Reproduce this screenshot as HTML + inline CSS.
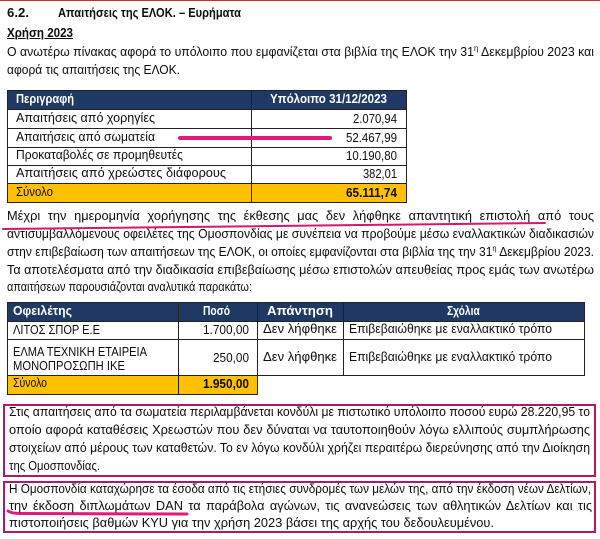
<!DOCTYPE html>
<html><head><meta charset="utf-8">
<style>
*{margin:0;padding:0;box-sizing:border-box}
html,body{width:600px;height:539px;background:#fff;overflow:hidden}
body{position:relative;font-family:"Liberation Sans","DejaVu Sans",sans-serif;font-size:12.8px;color:#0d0d0d}
.ln{position:absolute;height:18px;line-height:18px;white-space:nowrap}
.ln>span{display:inline-block;transform-origin:0 50%}
.b{font-weight:bold}
.w{color:#fff}
.u>span{text-decoration:underline}
.hl{position:absolute;height:1px;background:#222}
.vl{position:absolute;width:1px;background:#222}
.bx{position:absolute}
sup{font-size:8px;line-height:0;vertical-align:5px}
</style>
</head>
<body>
<div class="bx" style="left:0;top:0;width:600px;height:1px;background:#d42a2a"></div>

<div class="ln b f" style="left:7px;top:4px;width:22px"><span>6.2.</span></div>
<div class="ln b f" style="left:58px;top:4px;width:183px"><span>Απαιτήσεις της ΕΛΟΚ. – Ευρήματα</span></div>
<div class="ln b f u" style="left:7px;top:24px;width:66px"><span>Χρήση 2023</span></div>

<div class="ln j" style="left:7px;top:43px;width:587px"><span>Ο ανωτέρω πίνακας αφορά το υπόλοιπο που εμφανίζεται στα βιβλία της ΕΛΟΚ την 31<sup>η</sup> Δεκεμβρίου 2023 και</span></div>
<div class="ln f" style="left:7px;top:61px;width:173px"><span>αφορά τις απαιτήσεις της ΕΛΟΚ.</span></div>

<!-- Table 1 -->
<div class="bx" style="left:7px;top:90px;width:399px;height:19px;background:#1f3864"></div>
<div class="bx" style="left:7px;top:183px;width:399px;height:19px;background:#ffc000"></div>
<div class="bx" style="left:7px;top:90px;width:400px;height:113px;border:1px solid #222"></div>
<div class="hl" style="left:7px;top:109px;width:399px"></div>
<div class="hl" style="left:7px;top:128px;width:399px"></div>
<div class="hl" style="left:7px;top:147px;width:399px"></div>
<div class="hl" style="left:7px;top:165px;width:399px"></div>
<div class="hl" style="left:7px;top:183px;width:399px"></div>
<div class="vl" style="left:251px;top:90px;height:112px"></div>

<div class="ln b w f" style="left:16px;top:90px;width:58px"><span>Περιγραφή</span></div>
<div class="ln b w f" style="left:270px;top:90px;width:117px"><span>Υπόλοιπο 31/12/2023</span></div>
<div class="ln f" style="left:16px;top:108.5px;width:139px"><span>Απαιτήσεις από χορηγίες</span></div>
<div class="ln f" style="left:353px;top:109.5px;width:44px"><span>2.070,94</span></div>
<div class="ln f" style="left:16px;top:127.5px;width:139px"><span>Απαιτήσεις από σωματεία</span></div>
<div class="ln f" style="left:346px;top:128.5px;width:51px"><span>52.467,99</span></div>
<div class="ln f" style="left:16px;top:146px;width:167px"><span>Προκαταβολές σε προμηθευτές</span></div>
<div class="ln f" style="left:346px;top:147px;width:51px"><span>10.190,80</span></div>
<div class="ln f" style="left:16px;top:164px;width:210px"><span>Απαιτήσεις από χρεώστες διάφορους</span></div>
<div class="ln f" style="left:363px;top:165px;width:34px"><span>382,01</span></div>
<div class="ln f" style="left:16px;top:182.5px;width:37px"><span>Σύνολο</span></div>
<div class="ln b f" style="left:346px;top:183.5px;width:51px"><span>65.111,74</span></div>

<div class="bx" style="left:178px;top:135.5px;width:154px;height:4px;border-radius:2px;background:#e4197b"></div>

<!-- Paragraph 2 -->
<div class="ln j" style="left:7px;top:207px;width:587px"><span>Μέχρι την ημερομηνία χορήγησης της έκθεσης μας δεν λήφθηκε απαντητική επιστολή από τους</span></div>
<div class="ln j" style="left:7px;top:225px;width:587px"><span>αντισυμβαλλόμενους οφειλέτες της Ομοσπονδίας με συνέπεια να προβούμε μέσω εναλλακτικών διαδικασιών</span></div>
<div class="ln j" style="left:7px;top:243px;width:587px"><span>στην επιβεβαίωση των απαιτήσεων της ΕΛΟΚ, οι οποίες εμφανίζονται στα βιβλία της την 31<sup>η</sup> Δεκεμβρίου 2023.</span></div>
<div class="ln j" style="left:7px;top:261px;width:587px"><span>Τα αποτελέσματα από την διαδικασία επιβεβαίωσης μέσω επιστολών απευθείας προς εμάς των ανωτέρω</span></div>
<div class="ln f" style="left:7px;top:278px;width:245px"><span>απαιτήσεων παρουσιάζονται αναλυτικά παρακάτω:</span></div>

<svg class="bx" style="left:0;top:0" width="600" height="539">
<path d="M3 229 Q270 226.5 545 223" stroke="#d6166f" stroke-width="2" fill="none" stroke-linecap="round"/>
<path d="M8 511 Q12 513.5 20 513.5 L187 514" stroke="#e0197a" stroke-width="3" fill="none" stroke-linecap="round"/>
</svg>

<!-- Table 2 -->
<div class="bx" style="left:7px;top:302px;width:577px;height:19px;background:#1f3864"></div>
<div class="bx" style="left:7px;top:375px;width:250px;height:19px;background:#ffc000"></div>
<div class="bx" style="left:7px;top:302px;width:578px;height:74px;border:1px solid #222"></div>
<div class="bx" style="left:7px;top:375px;width:251px;height:20px;border:1px solid #222"></div>
<div class="hl" style="left:7px;top:321px;width:577px"></div>
<div class="hl" style="left:7px;top:339px;width:577px"></div>
<div class="vl" style="left:178px;top:302px;height:92px"></div>
<div class="vl" style="left:257px;top:302px;height:73px"></div>
<div class="vl" style="left:343px;top:302px;height:73px"></div>

<div class="ln b w f" style="left:13px;top:302px;width:59px"><span>Οφειλέτης</span></div>
<div class="ln b w f" style="left:203px;top:302px;width:27px"><span>Ποσό</span></div>
<div class="ln b w f" style="left:267px;top:302px;width:66px"><span>Απάντηση</span></div>
<div class="ln b w f" style="left:447px;top:302px;width:30px"><span>Σχόλια</span></div>

<div class="ln f" style="left:13px;top:321px;width:87px"><span>ΛΙΤΟΣ ΣΠΟΡ Ε.Ε</span></div>
<div class="ln f" style="left:203px;top:321px;width:46px"><span>1.700,00</span></div>
<div class="ln f" style="left:263px;top:320px;width:74px"><span>Δεν λήφθηκε</span></div>
<div class="ln f" style="left:349px;top:320px;width:203px"><span>Επιβεβαιώθηκε με εναλλακτικό τρόπο</span></div>

<div class="ln f" style="left:13px;top:343px;width:134px"><span>ΕΛΜΑ ΤΕΧΝΙΚΗ ΕΤΑΙΡΕΙΑ</span></div>
<div class="ln f" style="left:13px;top:357px;width:112px"><span>ΜΟΝΟΠΡΟΣΩΠΗ ΙΚΕ</span></div>
<div class="ln f" style="left:213px;top:349px;width:36px"><span>250,00</span></div>
<div class="ln f" style="left:263px;top:348px;width:74px"><span>Δεν λήφθηκε</span></div>
<div class="ln f" style="left:349px;top:348px;width:203px"><span>Επιβεβαιώθηκε με εναλλακτικό τρόπο</span></div>

<div class="ln f" style="left:13px;top:374px;width:34px"><span>Σύνολο</span></div>
<div class="ln b f" style="left:203px;top:375px;width:46px"><span>1.950,00</span></div>

<!-- Box 1 -->
<div class="bx" style="left:3px;top:404px;width:593px;height:73px;border:2px solid #b3166a"></div>
<div class="ln j" style="left:9px;top:403px;width:581px"><span>Στις απαιτήσεις από τα σωματεία περιλαμβάνεται κονδύλι με πιστωτικό υπόλοιπο ποσού ευρώ 28.220,95 το</span></div>
<div class="ln j" style="left:9px;top:421px;width:581px"><span>οποίο αφορά καταθέσεις Χρεωστών που δεν δύναται να ταυτοποιηθούν λόγω ελλιπούς συμπλήρωσης</span></div>
<div class="ln j" style="left:9px;top:439px;width:581px"><span>στοιχείων από μέρους των καταθετών. Το εν λόγω κονδύλι χρήζει περαιτέρω διερεύνησης από την Διοίκηση</span></div>
<div class="ln f" style="left:9px;top:457px;width:91px"><span>της Ομοσπονδίας.</span></div>

<!-- Box 2 -->
<div class="bx" style="left:3px;top:481px;width:593px;height:52px;border:2px solid #b3166a"></div>
<div class="ln j" style="left:9px;top:480px;width:582px"><span>Η Ομοσπονδία καταχώρησε τα έσοδα από τις ετήσιες συνδρομές των μελών της, από την έκδοση νέων Δελτίων,</span></div>
<div class="ln j" style="left:9px;top:497px;width:583px"><span>την έκδοση διπλωμάτων DAN τα παράβολα αγώνων, τις ανανεώσεις των αθλητικών Δελτίων και τις</span></div>
<div class="ln f" style="left:9px;top:514px;width:485px"><span>πιστοποιήσεις βαθμών KYU για την χρήση 2023 βάσει της αρχής του δεδουλευμένου.</span></div>

<script>
(function(){
  var els=document.querySelectorAll('.ln');
  for(var i=0;i<els.length;i++){
    var d=els[i], s=d.firstElementChild;
    if(!s) continue;
    var W=parseFloat(d.style.width), w=s.getBoundingClientRect().width;
    if(!W||!w) continue;
    if(d.classList.contains('j')){
      if(w>W){ s.style.transform='scaleX('+(W/w)+')'; }
      else{
        var n=(s.textContent.match(/ /g)||[]).length;
        if(n) s.style.wordSpacing=((W-w)/n)+'px';
      }
    } else if(d.classList.contains('f')){
      var k=W/w; if(k>1.15)k=1.15; if(k<0.8)k=0.8;
      s.style.transform='scaleX('+k+')';
    }
  }
})();
</script>
</body></html>
